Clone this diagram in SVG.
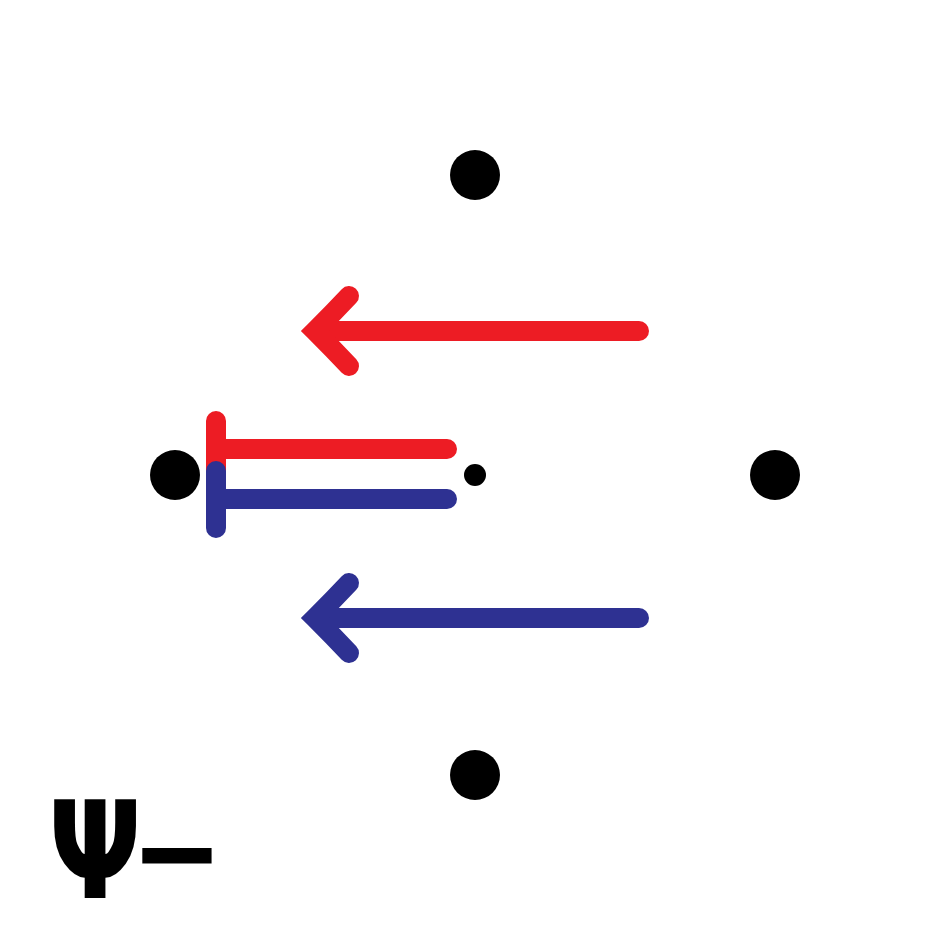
<svg xmlns="http://www.w3.org/2000/svg" width="950" height="950" viewBox="0 0 950 950">
<style>
.dot{fill:#000}
.red{stroke:#ED1C24}
.blue{stroke:#2E3192}
.ln{fill:none;stroke-width:20;stroke-linecap:round;stroke-linejoin:miter}
.lbl{font-family:"DejaVu Sans",sans-serif;font-weight:bold;fill:#000}
</style>
<rect width="950" height="950" fill="#fff"/>
<g id="node-top"><circle class="dot" cx="475" cy="175" r="25"/></g>
<g id="node-left"><circle class="dot" cx="175" cy="475" r="25"/></g>
<g id="node-right"><circle class="dot" cx="775" cy="475" r="25"/></g>
<g id="node-bottom"><circle class="dot" cx="475" cy="775" r="25"/></g>
<g id="node-center"><circle class="dot" cx="475" cy="475" r="11"/></g>
<g id="connectors">
<path class="ln red" d="M325 331H639"/>
<path class="ln red" d="M349 296Q333 313 315 331Q333 349 349 366"/>
<path class="ln blue" d="M325 618H639"/>
<path class="ln blue" d="M349 583Q333 600 315 618Q333 636 349 653"/>
<path class="ln red" d="M216 421V470M216 449H447" stroke-width="19"/>
<path class="ln blue" d="M216 471V528M216 499H447" stroke-width="19"/>
</g>
<g id="label">
<text class="lbl" font-size="135" letter-spacing="-14" transform="translate(48,898) scale(0.82,1)">Ψ−</text>
</g>
</svg>
